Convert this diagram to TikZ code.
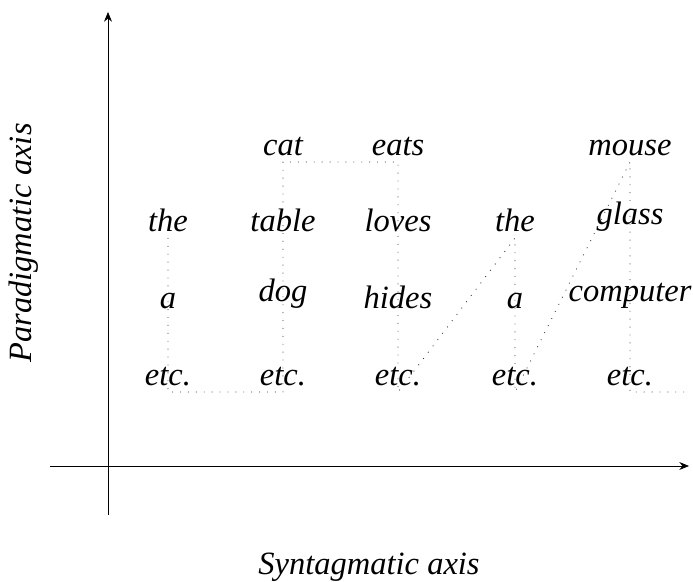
\documentclass[tikz,border=0pt]{standalone}
\usepackage{fontspec}
\setmainfont{Liberation Serif}
\usetikzlibrary{arrows.meta}
\begin{document}
\begin{tikzpicture}[>={Stealth[length=5.5pt,width=4.5pt]},
    word/.style={above, font=\fontsize{18.5}{22}\selectfont\itshape},
    link/.style={line width=0.5pt, dash pattern=on 0.5pt off 4pt, black!80}]
  \useasboundingbox (-2.16,-2.32) rectangle (11.7,9.32);
  % axes
  \coordinate (yl) at (0,-0.98);
  \coordinate (yh) at (0,9.08);
  \coordinate (xl) at (-1.16,0);
  \coordinate (xh) at (11.62,0);
  \draw[->] (yl) -- (yh);
  \draw[->] (xl) -- (xh);
  \node[word, anchor=base] (synt) at (5.22,-2.18) {Syntagmatic axis};
  \node[word, anchor=base, rotate=90] (para) at (-1.52,4.46) {Paradigmatic axis};
  % words
  \node[word] (the1) at (1.2,4.56) {the};
  \node[word] (a1) at (1.2,3.02) {a};
  \node[word] (etc1) at (1.2,1.48) {etc.};
  \node[word] (cat) at (3.5,6.08) {cat};
  \node[word] (table) at (3.5,4.56) {table};
  \node[word] (dog) at (3.5,3.02) {dog};
  \node[word] (etc2) at (3.5,1.48) {etc.};
  \node[word] (eats) at (5.8,6.08) {eats};
  \node[word] (loves) at (5.8,4.56) {loves};
  \node[word] (hides) at (5.8,3.02) {hides};
  \node[word] (etc3) at (5.8,1.48) {etc.};
  \node[word] (the2) at (8.14,4.56) {the};
  \node[word] (a2) at (8.14,3.02) {a};
  \node[word] (etc4) at (8.14,1.48) {etc.};
  \node[word] (mouse) at (10.44,6.08) {mouse};
  \node[word] (glass) at (10.44,4.56) {glass};
  \node[word] (comp) at (10.44,3.02) {computer};
  \node[word] (etc5) at (10.44,1.48) {etc.};
  % the sentence path
  \coordinate (tail) at (11.64,1.48);
  \draw[link] (the1.south) -- (etc1.south) -- (etc2.south) -- (cat.south)
    -- (eats.south) -- (etc3.south) -- (the2.south) -- (etc4.south)
    -- (mouse.south) -- (etc5.south) -- (tail);
\end{tikzpicture}
\end{document}
